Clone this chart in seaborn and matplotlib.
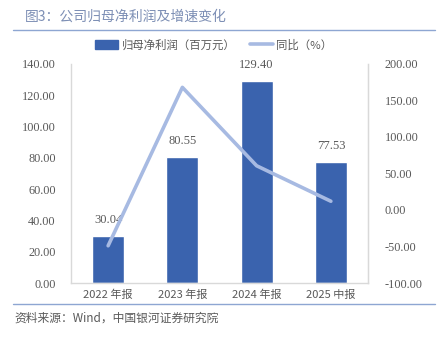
import numpy as np
import pandas as pd
import matplotlib
matplotlib.use("Agg")
import matplotlib.pyplot as plt
from matplotlib.patches import Patch
from matplotlib.lines import Line2D
import seaborn as sns

categories = ["2022 年报", "2023 年报", "2024 年报", "2025 中报"]
profit = [30.04, 80.55, 129.40, 77.53]
growth = [-49.0, 168.0, 60.6, 12.0]
left_ticks = [0, 20, 40, 60, 80, 100, 120, 140]
right_ticks = [-100, -50, 0, 50, 100, 150, 200]

sns.set_style("white")
plt.rcParams['font.family'] = ['Noto Sans CJK SC', 'DejaVu Sans']

bar_color = "#3a63ae"
line_color = "#a7bae2"
text_gray = "#595959"
frame_gray = "#d9d9d9"
serif = ['Liberation Serif', 'DejaVu Serif']

fig = plt.figure(figsize=(4.38, 3.42), dpi=100)
ax = fig.add_axes([71/438, 1-283/342, 297/438, 219/342])

df = pd.DataFrame({"cat": categories, "profit": profit})
sns.barplot(data=df, x="cat", y="profit", color=bar_color, width=0.43,
            saturation=1, ax=ax, zorder=2)
ax.set_ylim(0, 140)
ax.set_yticks(left_ticks)
ax.set_yticklabels([f"{v:.2f}" for v in left_ticks], fontfamily=serif,
                   fontsize=8.8, color=text_gray)
ax.set_xlim(-0.5, 3.5)
ax.set_xlabel("")
ax.set_ylabel("")
ax.tick_params(axis='y', length=0, pad=11)
ax.tick_params(axis='x', length=0, pad=5)
for lbl in ax.get_xticklabels():
    lbl.set_fontsize(8)
    lbl.set_color(text_gray)
for sp in ax.spines.values():
    sp.set_color(frame_gray)
    sp.set_linewidth(1)
ax.spines['top'].set_visible(False)

for c in ax.containers:
    ax.bar_label(c, labels=[f"{v:.2f}" for v in profit], padding=7,
                 fontsize=9, color=text_gray, fontfamily=serif)

ax2 = ax.twinx()
sns.lineplot(x=np.arange(len(categories)), y=growth, ax=ax2, color=line_color,
             linewidth=2.6, sort=False)
ax2.set_ylim(-100, 200)
ax2.set_yticks(right_ticks)
ax2.set_yticklabels([f"{v:.2f}" for v in right_ticks], fontfamily=serif,
                    fontsize=8.8, color=text_gray)
ax2.tick_params(axis='y', length=0, pad=12)
ax2.set_ylabel("")
for sp in ax2.spines.values():
    sp.set_visible(False)
ax2.spines['right'].set_visible(True)
ax2.spines['right'].set_color(frame_gray)

handles = [Patch(facecolor=bar_color, edgecolor=bar_color),
           Line2D([0], [0], color=line_color, linewidth=2.6)]
fig.legend(handles, ["归母净利润（百万元）", "同比（%）"], ncol=2, loc="center",
           bbox_to_anchor=(214/438, 1-45/342), frameon=False, fontsize=8.2,
           labelcolor=text_gray, handlelength=2.0, handleheight=0.9,
           handletextpad=0.3, columnspacing=1.3)

fig.text(25/438, 1-17/342, "图3：公司归母净利润及增速变化", fontsize=10,
         color="#7d8fb5", va="center", ha="left")
fig.add_artist(Line2D([13/438, 435/438], [1-30/342, 1-30/342],
                      color="#8ea6d2", linewidth=1, transform=fig.transFigure))
fig.add_artist(Line2D([13/438, 435/438], [1-304/342, 1-304/342],
                      color="#8ea6d2", linewidth=1, transform=fig.transFigure))
fig.text(14/438, 1-318/342, "资料来源：Wind，中国银河证券研究院", fontsize=8.5,
         color=text_gray, va="center", ha="left", style="italic")

fig.savefig("out.png", dpi=100)
